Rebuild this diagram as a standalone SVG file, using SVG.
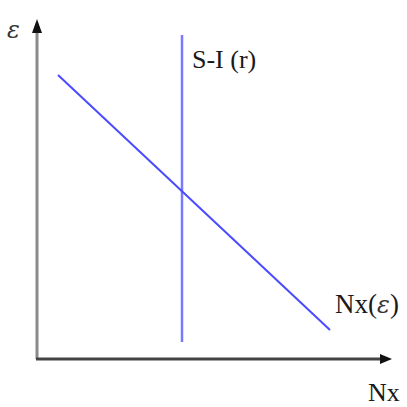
<svg xmlns="http://www.w3.org/2000/svg" width="407" height="407" viewBox="0 0 407 407">
<style>
.lbl{font-family:"Liberation Serif","Times New Roman",serif;fill:#1a1a1a}
.eps{font-family:"DejaVu Serif","Liberation Serif",serif;font-style:italic;fill:#333}
.curve{stroke:#4a4aff;stroke-width:2;fill:none}
</style>
<rect width="407" height="407" fill="#fff"/>
<g id="axes">
<line x1="37" y1="359" x2="37" y2="30" stroke="#8a8a8a" stroke-width="3"/>
<polygon points="37,19 32,33 42,33" fill="#111"/>
<line x1="36" y1="359" x2="382" y2="359" stroke="#444" stroke-width="3"/>
<polygon points="392,359 380,354 380,364" fill="#111"/>
</g>
<g id="connectors">
<line class="curve" x1="182" y1="35" x2="182" y2="342" style="stroke:#7a7aff;stroke-width:2.5"/>
<line class="curve" x1="58" y1="75" x2="330" y2="330"/>
</g>
<g id="labels">
<text class="eps" x="7" y="38" font-size="24">ε</text>
<text class="lbl" x="192" y="68" font-size="26">S-I (r)</text>
<text class="lbl" x="335" y="313" font-size="27">Nx(<tspan class="eps" font-size="24">ε</tspan>)</text>
<text class="lbl" x="368" y="401" font-size="26">Nx</text>
</g>
</svg>
